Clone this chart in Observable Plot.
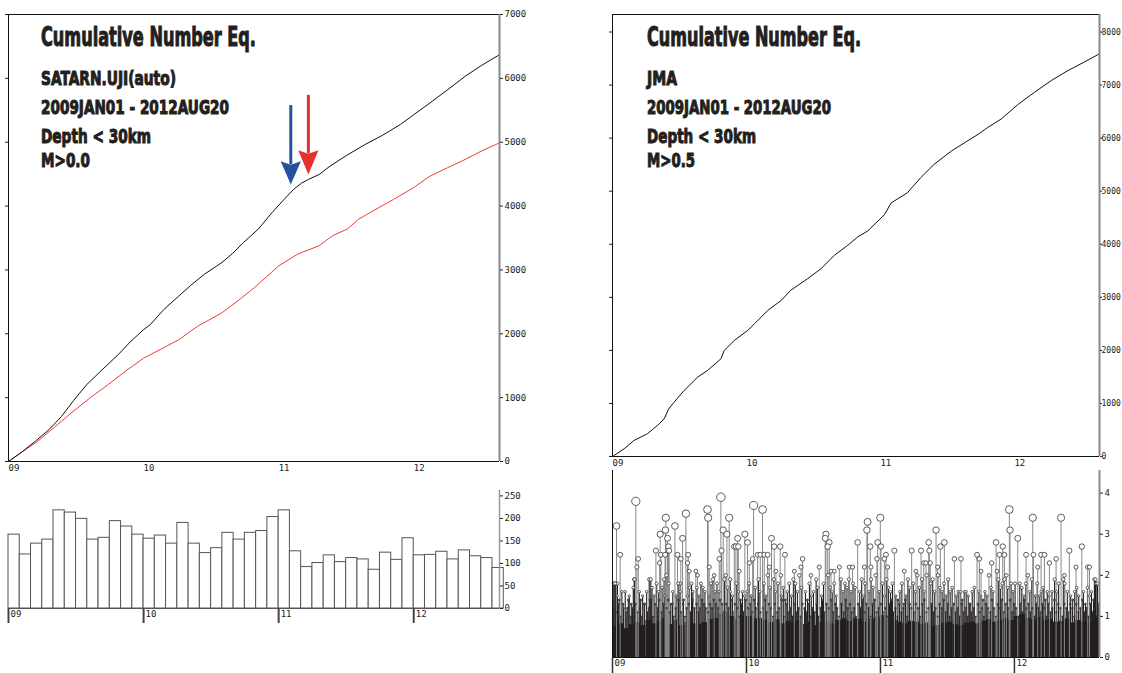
<!DOCTYPE html>
<html><head><meta charset="utf-8">
<script src="https://cdn.jsdelivr.net/npm/d3@7"></script>
<script src="https://cdn.jsdelivr.net/npm/@observablehq/plot@0.6"></script>
<style>
body{margin:0;background:#fff;}
#wrap{position:relative;width:1122px;height:673px;overflow:hidden;background:#fff}
.p{position:absolute}
</style></head><body><div id="wrap"></div>
<script>
// ---------- data (time in years since 2009JAN01) ----------
const tEnd = 3.635;                 // 2012AUG20
const yearTicks = [0, 1, 2, 3];
const yearLabels = ["09", "10", "11", "12"];

// SATARN.UJI(auto) cumulative (black)
const satT = [0,0.1,0.206,0.3,0.39,0.48,0.577,0.7,0.815,0.9,1.0,1.05,1.15,1.26,1.35,1.45,1.58,1.66,1.74,1.85,1.95,2.03,2.11,2.17,2.22,2.30,2.38,2.5,2.64,2.77,2.90,3.0,3.12,3.25,3.38,3.5,3.635];
const satN = [0,150,330,500,700,950,1200,1450,1680,1870,2065,2144,2380,2590,2760,2932,3116,3260,3431,3641,3896,4080,4260,4360,4417,4495,4625,4790,4964,5110,5276,5430,5615,5820,6031,6200,6370];
// second cumulative curve (red)
const redT = [0,0.1,0.206,0.33,0.47,0.6,0.735,0.87,1.0,1.13,1.26,1.4,1.58,1.7,1.82,2.0,2.14,2.30,2.40,2.51,2.59,2.72,2.85,3.0,3.12,3.25,3.38,3.5,3.635];
const redN = [0,150,300,520,770,990,1200,1420,1618,1760,1907,2118,2328,2520,2722,3063,3247,3379,3537,3642,3792,3950,4104,4290,4469,4600,4729,4860,4990];
// JMA cumulative
const jmaT = [0,0.087,0.16,0.26,0.336,0.386,0.42,0.46,0.535,0.636,0.71,0.81,0.834,0.91,1.01,1.06,1.16,1.26,1.33,1.457,1.557,1.656,1.756,1.83,1.905,2.03,2.08,2.20,2.30,2.40,2.53,2.63,2.73,2.80,2.90,3.03,3.15,3.275,3.40,3.52,3.635];
const jmaN = [0,145,302,428,585,711,900,1025,1245,1497,1623,1843,2000,2189,2377,2503,2755,2943,3132,3352,3541,3792,3981,4138,4250,4558,4779,4968,5253,5505,5758,5916,6074,6200,6358,6642,6864,7085,7274,7432,7590];

// monthly counts (SATARN), Jan 2009 .. Aug 2012
const monthlyCount = [164,120,144,153,218,213,199,153,157,194,182,164,
                      155,162,144,190,144,123,134,168,153,168,172,203,
                      218,127,92,101,118,103,112,109,86,124,108,156,
                      118,119,126,109,129,116,112,90];

// arrows (years, counts)
const arrowX    = [2.09, 2.22];
const arrowTop  = [5573, 5734];
const arrowWing = [4703, 4875];
const arrowTip  = [4339, 4495];
const arrowColor = ["#2650a0", "#e8312f"];

// JMA magnitudes: top of the dense mass of small events, per half month
const baseLevel = [0.75,0.82,0.7,0.8,0.85,0.78,0.9,0.82,0.88,0.95,0.8,0.9,0.78,0.85,0.82,0.8,0.85,0.92,0.95,1.05,1.1,1.0,0.92,0.98,
                   1.0,0.94,0.95,0.9,0.85,0.92,0.82,0.88,0.84,0.9,0.8,0.86,0.78,0.84,0.86,0.82,0.9,0.94,0.88,0.95,0.92,0.86,0.94,0.98,
                   1.02,0.98,0.9,0.86,0.82,0.88,0.86,0.8,0.84,0.76,0.78,0.84,0.86,0.8,0.78,0.84,0.86,0.82,0.88,0.92,0.86,0.9,0.95,0.9,
                   1.0,1.05,0.95,0.92,0.98,0.9,0.92,0.86,0.88,0.94,0.84,0.9,0.86,0.82,0.88,0.84];
// individual events [t, M], larger ones
const bigEvents = [[0.012,1.8],[0.025,1.8],[0.037,1.8],[0.03,3.2],[0.057,2.5],[0.174,3.8],[0.192,2.4],[0.182,2.2],[0.162,1.9],[0.274,1.9],[0.286,1.9],[0.324,2.6],[0.356,3.0],[0.361,2.5],[0.352,2.3],[0.398,3.4],[0.395,3.1],[0.393,2.5],[0.411,2.9],[0.418,2.7],[0.423,2.6],[0.403,2.0],[0.466,3.2],[0.485,2.5],[0.51,2.4],[0.523,2.9],[0.548,3.5],[0.565,2.5],[0.56,2.3],[0.573,2.1],[0.505,1.8],[0.622,2.1],[0.635,2.0],[0.709,3.6],[0.714,3.4],[0.722,2.2],[0.759,2.0],[0.797,2.4],[0.809,3.9],[0.814,2.6],[0.826,3.1],[0.854,3.0],[0.871,3.4],[0.879,1.9],[0.909,2.7],[0.921,2.7],[0.934,2.9],[0.939,2.7],[0.946,2.1],[0.988,3.0],[1.008,2.8],[1.021,2.3],[1.046,2.4],[1.053,3.7],[1.083,2.5],[1.103,2.5],[1.12,3.6],[1.133,2.5],[1.158,2.5],[1.17,2.2],[1.187,2.9],[1.207,2.7],[1.22,2.1],[1.252,2.7],[1.287,2.5],[1.257,2.0],[1.357,2.1],[1.407,2.2],[1.419,2.4],[1.481,2.0],[1.543,2.2],[1.593,3.0],[1.588,2.9],[1.606,2.7],[1.618,2.8],[1.631,2.1],[1.655,2.1],[1.693,2.2],[1.767,2.2],[1.792,2.2],[1.83,2.8],[1.88,2.2],[1.899,3.1],[1.904,3.3],[1.924,2.7],[1.929,2.2],[1.974,2.4],[1.979,2.8],[1.999,3.4],[2.004,2.7],[2.029,2.4],[2.041,2.5],[2.054,2.2],[2.104,2.6],[2.178,2.1],[2.233,2.6],[2.265,2.1],[2.303,2.6],[2.323,2.3],[2.34,2.3],[2.36,2.8],[2.365,2.6],[2.372,2.3],[2.415,3.1],[2.427,2.2],[2.447,2.7],[2.477,2.8],[2.552,2.4],[2.601,2.4],[2.721,2.5],[2.738,2.4],[2.751,2.1],[2.83,2.3],[2.863,2.8],[2.888,2.5],[2.913,2.7],[2.925,2.5],[2.962,3.6],[2.967,3.1],[3.025,2.9],[3.087,2.5],[3.137,3.4],[3.142,2.5],[3.174,2.2],[3.199,2.5],[3.224,2.5],[3.261,2.3],[3.311,2.4],[3.348,3.4],[3.373,2.0],[3.41,2.6],[3.46,2.2],[3.503,2.7],[3.547,2.2],[3.56,2.2],[3.597,1.9],[3.61,1.8]];
// individual events [t, M], medium ones
const midEvents = [[0.01,1.8],[0.02,1.8],[0.035,1.5],[0.05,1.4],[0.07,1.6],[0.08,1.3],[0.095,1.6],[0.11,1.2],[0.125,1.5],[0.14,1.3],[0.155,1.7],[0.165,1.9],[0.2,1.6],[0.21,1.4],[0.225,1.5],[0.24,1.3],[0.255,1.6],[0.28,1.4],[0.295,1.7],[0.31,1.5],[0.33,1.8],[0.345,1.6],[0.37,1.7],[0.385,1.9],[0.39,1.5],[0.42,1.8],[0.435,1.3],[0.45,1.6],[0.475,1.5],[0.49,1.8],[0.505,1.6],[0.53,1.4],[0.56,1.5],[0.575,1.7],[0.59,1.8],[0.6,1.6],[0.63,1.7],[0.645,1.5],[0.66,1.8],[0.675,1.7],[0.69,1.6],[0.72,1.5],[0.735,1.8],[0.75,1.9],[0.765,1.6],[0.78,1.8],[0.795,1.6],[0.835,1.9],[0.845,2.0],[0.86,1.7],[0.88,1.6],[0.895,1.5],[0.925,1.8],[0.94,1.6],[0.955,1.4],[0.97,1.6],[0.985,1.5],[1.005,1.6],[1.02,1.8],[1.035,1.5],[1.065,1.7],[1.09,1.9],[1.1,1.6],[1.13,1.8],[1.145,1.5],[1.16,2.0],[1.175,1.7],[1.205,1.9],[1.215,1.6],[1.235,1.8],[1.26,1.5],[1.275,1.7],[1.29,1.4],[1.305,1.6],[1.32,1.8],[1.335,1.5],[1.35,1.9],[1.365,1.8],[1.38,1.6],[1.395,2.0],[1.41,1.7],[1.44,1.6],[1.455,1.4],[1.47,1.8],[1.485,1.5],[1.5,1.6],[1.52,1.9],[1.53,1.7],[1.56,1.5],[1.575,1.8],[1.61,2.0],[1.625,1.7],[1.64,1.6],[1.655,1.8],[1.67,1.5],[1.705,1.9],[1.72,1.6],[1.735,1.8],[1.75,1.7],[1.765,1.9],[1.78,1.6],[1.795,1.8],[1.81,1.7],[1.845,1.6],[1.86,1.9],[1.875,1.5],[1.885,1.8],[1.915,1.6],[1.93,1.9],[1.945,1.7],[1.965,2.0],[1.99,1.6],[2.015,1.8],[2.03,1.5],[2.045,1.9],[2.06,1.7],[2.075,1.6],[2.09,1.8],[2.115,1.5],[2.13,1.4],[2.145,1.6],[2.16,1.8],[2.175,1.3],[2.19,1.5],[2.205,1.9],[2.215,1.7],[2.245,1.8],[2.26,1.6],[2.275,2.0],[2.29,1.7],[2.31,1.9],[2.325,1.6],[2.345,2.0],[2.375,1.8],[2.39,1.9],[2.405,1.6],[2.43,2.0],[2.445,1.7],[2.46,1.6],[2.475,1.8],[2.49,1.5],[2.505,1.9],[2.52,1.6],[2.535,1.7],[2.565,1.5],[2.58,1.6],[2.595,1.6],[2.61,1.4],[2.625,1.6],[2.64,1.6],[2.655,1.5],[2.67,1.3],[2.685,1.6],[2.7,1.7],[2.735,1.6],[2.75,1.5],[2.765,1.4],[2.78,1.6],[2.795,1.5],[2.81,2.0],[2.825,1.7],[2.84,1.6],[2.87,2.1],[2.88,1.9],[2.895,1.7],[2.91,1.8],[2.925,1.9],[2.94,2.0],[2.95,1.7],[2.975,1.8],[2.99,1.6],[3.005,1.8],[3.04,1.8],[3.055,1.7],[3.07,1.5],[3.085,1.8],[3.1,2.0],[3.115,1.6],[3.13,1.9],[3.155,1.5],[3.17,1.8],[3.185,1.5],[3.2,1.6],[3.215,1.7],[3.23,1.4],[3.245,1.6],[3.26,1.5],[3.28,1.6],[3.3,1.9],[3.315,1.6],[3.33,1.8],[3.365,1.9],[3.375,1.8],[3.395,1.6],[3.42,1.5],[3.435,1.4],[3.45,1.6],[3.465,1.7],[3.48,1.5],[3.515,1.6],[3.53,1.3],[3.545,1.7],[3.56,1.5],[3.575,1.6],[3.59,1.4],[3.605,1.9],[3.62,1.8]];
// individual events [t, M], small ones above the dense mass
const smallEvents = [[0.005,1.2],[0.027,1.1],[0.044,1.3],[0.061,1.0],[0.083,1.2],[0.102,1.1],[0.118,1.4],[0.137,1.0],[0.149,1.2],[0.171,1.3],[0.188,1.1],[0.207,1.2],[0.219,1.0],[0.236,1.3],[0.262,1.1],[0.271,1.2],[0.289,1.4],[0.301,1.0],[0.318,1.3],[0.337,1.2],[0.348,1.4],[0.366,1.1],[0.379,1.3],[0.404,1.2],[0.416,1.4],[0.429,1.1],[0.447,1.3],[0.458,1.0],[0.471,1.2],[0.493,1.4],[0.512,1.1],[0.527,1.3],[0.541,1.0],[0.553,1.2],[0.569,1.3],[0.583,1.1],[0.597,1.4],[0.611,1.2],[0.627,1.3],[0.641,1.1],[0.652,1.2],[0.668,1.4],[0.683,1.3],[0.697,1.2],[0.712,1.1],[0.728,1.3],[0.743,1.2],[0.757,1.4],[0.771,1.3],[0.788,1.2],[0.803,1.4],[0.818,1.3],[0.831,1.1],[0.849,1.3],[0.866,1.2],[0.884,1.4],[0.899,1.1],[0.913,1.3],[0.931,1.2],[0.948,1.0],[0.962,1.3],[0.977,1.1],[0.993,1.4],[1.011,1.2],[1.027,1.3],[1.042,1.1],[1.057,1.4],[1.071,1.2],[1.087,1.3],[1.106,1.1],[1.122,1.2],[1.139,1.4],[1.151,1.1],[1.168,1.3],[1.183,1.2],[1.198,1.0],[1.212,1.3],[1.229,1.1],[1.244,1.2],[1.263,1.4],[1.279,1.0],[1.296,1.3],[1.311,1.1],[1.327,1.2],[1.343,1.0],[1.358,1.3],[1.372,1.1],[1.389,1.2],[1.403,1.0],[1.418,1.3],[1.433,1.2],[1.449,1.1],[1.466,1.3],[1.478,1.0],[1.493,1.2],[1.509,1.1],[1.524,1.3],[1.538,1.0],[1.551,1.2],[1.567,1.4],[1.582,1.1],[1.597,1.3],[1.614,1.2],[1.633,1.4],[1.648,1.1],[1.662,1.3],[1.677,1.2],[1.691,1.0],[1.709,1.3],[1.726,1.1],[1.741,1.4],[1.757,1.2],[1.772,1.3],[1.787,1.1],[1.803,1.2],[1.817,1.0],[1.833,1.3],[1.851,1.2],[1.867,1.4],[1.882,1.1],[1.896,1.3],[1.911,1.2],[1.927,1.0],[1.941,1.3],[1.957,1.4],[1.972,1.1],[1.986,1.2],[2.002,1.3],[2.019,1.1],[2.036,1.2],[2.051,1.0],[2.067,1.3],[2.083,1.4],[2.097,1.1],[2.112,1.2],[2.127,1.0],[2.141,1.3],[2.156,1.1],[2.171,1.2],[2.186,1.4],[2.199,1.0],[2.218,1.3],[2.231,1.2],[2.249,1.1],[2.263,1.3],[2.279,1.2],[2.296,1.0],[2.312,1.3],[2.327,1.4],[2.343,1.1],[2.357,1.2],[2.381,1.3],[2.397,1.1],[2.412,1.2],[2.428,1.0],[2.441,1.3],[2.458,1.2],[2.472,1.4],[2.487,1.1],[2.502,1.3],[2.517,1.0],[2.532,1.2],[2.548,1.3],[2.561,1.1],[2.577,1.2],[2.591,1.0],[2.606,1.3],[2.622,1.1],[2.637,1.2],[2.651,1.0],[2.666,1.3],[2.681,1.1],[2.697,1.2],[2.712,1.0],[2.728,1.3],[2.743,1.1],[2.757,1.2],[2.772,1.0],[2.788,1.3],[2.803,1.2],[2.819,1.1],[2.833,1.4],[2.848,1.2],[2.862,1.0],[2.877,1.3],[2.893,1.2],[2.906,1.4],[2.921,1.1],[2.936,1.3],[2.952,1.2],[2.968,1.4],[2.983,1.1],[2.997,1.3],[3.012,1.2],[3.028,1.0],[3.043,1.3],[3.058,1.1],[3.073,1.4],[3.089,1.2],[3.104,1.3],[3.119,1.1],[3.134,1.2],[3.149,1.0],[3.164,1.3],[3.179,1.2],[3.194,1.1],[3.209,1.3],[3.224,1.2],[3.238,1.0],[3.253,1.3],[3.268,1.1],[3.283,1.2],[3.298,1.4],[3.313,1.1],[3.328,1.3],[3.343,1.2],[3.358,1.0],[3.372,1.3],[3.387,1.2],[3.402,1.1],[3.417,1.3],[3.432,1.2],[3.447,1.0],[3.462,1.3],[3.477,1.1],[3.492,1.2],[3.507,1.4],[3.522,1.1],[3.537,1.2],[3.552,1.0],[3.567,1.3],[3.582,1.1],[3.597,1.2],[3.612,1.0],[3.627,1.3]];

// text
const leftText  = ["Cumulative Number Eq.", "SATARN.UJI(auto)", "2009JAN01 - 2012AUG20", "Depth < 30km", "M>0.0"];
const rightText = ["Cumulative Number Eq.", "JMA", "2009JAN01 - 2012AUG20", "Depth < 30km", "M>0.5"];

// ---------- build ----------
const wrap = document.getElementById("wrap");
const mono = "'DejaVu Sans Mono', monospace";
const baseStyle = {fontFamily: mono, fontSize: "9px", background: "transparent", color: "#222", overflow: "visible"};
function place(el, left, top) {
  const d = document.createElement("div"); d.className = "p";
  d.style.left = left + "px"; d.style.top = top + "px";
  d.appendChild(el); wrap.appendChild(d);
}
const yearFmt = i => yearLabels[i];

const sat = satT.map((t, i) => ({t, n: satN[i]}));
const red = redT.map((t, i) => ({t, n: redN[i]}));
const jma = jmaT.map((t, i) => ({t, n: jmaN[i]}));
const months = monthlyCount.map((n, i) => ({x1: i / 12, x2: (i + 1) / 12, n}));
const base = baseLevel.map((m, i) => ({x1: i / 24, x2: Math.min((i + 1) / 24, tEnd), m}));
const events = bigEvents.concat(midEvents, smallEvents).map(([t, m]) => ({t, m}));

function arrowMarks() {
  const half = 0.075;
  return arrowX.map((x, i) => {
    const wing = arrowWing[i], tip = arrowTip[i], notch = wing - (wing - tip) * 0.15;
    const head = [{x: x - half, y: wing}, {x, y: tip}, {x: x + half, y: wing}, {x, y: notch}];
    return [
      Plot.ruleX([{x, y1: arrowTop[i], y2: notch}], {x: "x", y1: "y1", y2: "y2", stroke: arrowColor[i], strokeWidth: 3}),
      Plot.line(head, {x: "x", y: "y", fill: arrowColor[i], stroke: "none", curve: "linear-closed"})
    ];
  });
}

// top-left: SATARN cumulative
const p1 = Plot.plot({
  width: 545, height: 480, marginLeft: 8, marginRight: 46, marginTop: 14, marginBottom: 19,
  style: baseStyle,
  x: {domain: [0, tEnd]}, y: {domain: [0, 7000]},
  marks: [
    Plot.ruleY([7000], {stroke: "#111"}),
    Plot.ruleY([0], {stroke: "#111"}),
    Plot.ruleX([0], {stroke: "#111"}),
    Plot.axisY({anchor: "left", ticks: d3.range(0, 7001, 1000), tickSize: 3, tickFormat: () => "", label: null}),
    Plot.line(red, {x: "t", y: "n", stroke: "#ee3b35", strokeWidth: 1}),
    Plot.line(sat, {x: "t", y: "n", stroke: "#111", strokeWidth: 1}),
    Plot.ruleX([tEnd], {stroke: "#8a8a8a", strokeWidth: 2}),
    Plot.axisY({anchor: "right", ticks: d3.range(0, 7001, 1000), tickSize: 3, tickPadding: 2, tickFormat: d3.format("d"), label: null}),
    Plot.axisX({ticks: yearTicks, tickSize: 0, tickPadding: 3, tickFormat: yearFmt, textAnchor: "start", label: null}),
    arrowMarks()
  ]
});
place(p1, 0, 0);

// bottom-left: monthly histogram
const p2 = Plot.plot({
  width: 545, height: 150, marginLeft: 8, marginRight: 46, marginTop: 10, marginBottom: 22,
  style: baseStyle,
  x: {domain: [0, tEnd]}, y: {domain: [0, 262]},
  marks: [
    Plot.rectY(months, {x1: "x1", x2: "x2", y: "n", fill: "white", stroke: "#555", strokeWidth: 1, inset: 0}),
    Plot.ruleY([0], {stroke: "#555"}),
    Plot.ruleX([tEnd], {stroke: "#999", strokeWidth: 1.5}),
    Plot.axisY({anchor: "right", ticks: d3.range(0, 251, 50), tickSize: 3, tickPadding: 2, tickFormat: d3.format("d"), label: null}),
    Plot.axisX({ticks: yearTicks, tickSize: 15, tickFormat: () => "", strokeWidth: 2, stroke: "#444", label: null}),
    Plot.axisX({ticks: yearTicks, tickSize: 0, tickPadding: 2, tickFormat: yearFmt, textAnchor: "start", dx: 2, label: null})
  ]
});
place(p2, 0, 480);

// top-right: JMA cumulative
const p3 = Plot.plot({
  width: 522, height: 470, marginLeft: 12, marginRight: 23, marginTop: 14, marginBottom: 14,
  style: baseStyle,
  x: {domain: [0, tEnd]}, y: {domain: [0, 8330]},
  marks: [
    Plot.ruleY([8330], {stroke: "#111"}),
    Plot.ruleY([0], {stroke: "#111"}),
    Plot.ruleX([0], {stroke: "#111"}),
    Plot.axisY({anchor: "left", ticks: d3.range(0, 8001, 1000), tickSize: 3, tickFormat: () => "", label: null}),
    Plot.line(jma, {x: "t", y: "n", stroke: "#111", strokeWidth: 1}),
    Plot.ruleX([tEnd], {stroke: "#8a8a8a", strokeWidth: 2}),
    Plot.axisY({anchor: "right", ticks: d3.range(0, 8001, 1000), tickSize: 2, tickPadding: 0, fontSize: 8, tickFormat: d3.format("d"), label: null}),
    Plot.axisX({ticks: yearTicks, tickSize: 0, tickPadding: 3, tickFormat: yearFmt, textAnchor: "start", label: null})
  ]
});
place(p3, 600, 0);

// bottom-right: JMA magnitude stems
const p4 = Plot.plot({
  width: 522, height: 213, marginLeft: 12, marginRight: 23, marginTop: 10, marginBottom: 16,
  style: baseStyle,
  x: {domain: [0, tEnd]}, y: {domain: [0, 4.55]},
  r: {type: "linear", domain: [1, 4], range: [0.5, 4.4], clamp: true},
  marks: [
    Plot.rectY(base, {x1: "x1", x2: "x2", y: "m", fill: "#231f20", inset: 0}),
    Plot.ruleX(events.filter(d => d.m < 2), {x: "t", y1: 0, y2: "m", stroke: "#231f20", strokeWidth: 1.1}),
    Plot.ruleX(events.filter(d => d.m >= 2), {x: "t", y1: 0, y2: "m", stroke: "#888", strokeWidth: 1}),
    Plot.dot(events.filter(d => d.m >= 1.5), {x: "t", y: "m", r: "m", fill: "white", stroke: "#333", strokeWidth: 0.8}),
    Plot.dot(events.filter(d => d.m < 1.5), {x: "t", y: "m", r: "m", fill: "#777", stroke: "#222", strokeWidth: 0.8}),
    Plot.ruleX([0], {stroke: "#111"}),
    Plot.ruleY([0], {stroke: "#111"}),
    Plot.ruleX([tEnd], {stroke: "#8a8a8a", strokeWidth: 2}),
    Plot.axisY({anchor: "right", ticks: [0, 1, 2, 3, 4], tickSize: 3, tickPadding: 2, tickFormat: d3.format("d"), label: null}),
    Plot.axisX({ticks: yearTicks, tickSize: 16, tickFormat: () => "", strokeWidth: 1.5, stroke: "#333", label: null}),
    Plot.axisX({ticks: yearTicks, tickSize: 0, tickPadding: 2, tickFormat: yearFmt, textAnchor: "start", dx: 2, label: null})
  ]
});
place(p4, 600, 460);

// overlay titles
const textLayout = {
  x: [41, 647],
  baseline: [46, 85, 114, 143, 167],
  size: [26, 20, 20, 20, 20],
  widthLeft: [215, 135, 188, 110, 49],
  widthRight: [214, 30, 184, 109, 48]
};
const ov = d3.create("svg").attr("width", 1122).attr("height", 673)
  .style("position", "absolute").style("left", "0px").style("top", "0px");
[[leftText, textLayout.widthLeft, textLayout.x[0]], [rightText, textLayout.widthRight, textLayout.x[1]]].forEach(([lines, widths, x]) => {
  lines.forEach((s, i) => {
    ov.append("text").attr("x", x).attr("y", textLayout.baseline[i])
      .attr("font-family", "'DejaVu Sans Condensed','DejaVu Sans',sans-serif")
      .attr("font-weight", "bold").attr("font-size", textLayout.size[i])
      .attr("textLength", widths[i]).attr("lengthAdjust", "spacingAndGlyphs")
      .attr("fill", "#231f20").attr("stroke", "#231f20").attr("stroke-width", 1)
      .text(s);
  });
});
wrap.appendChild(ov.node());
</script>
</body></html>
